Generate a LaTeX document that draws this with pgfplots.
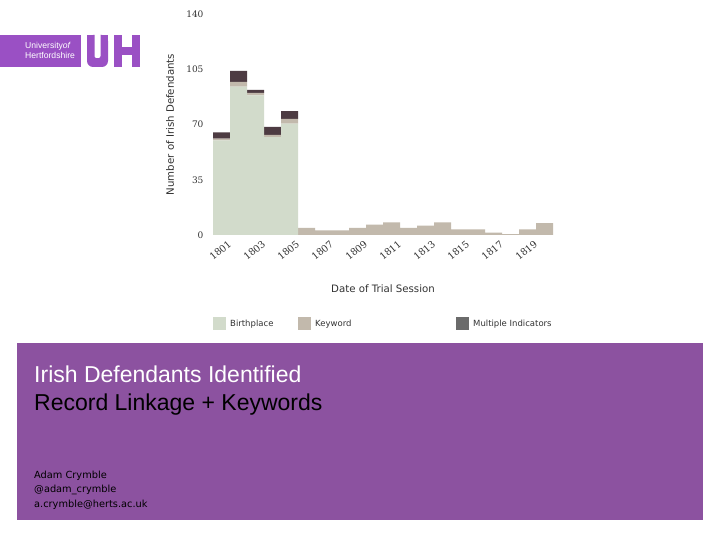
\documentclass[border=0pt]{standalone}
\usepackage{fontspec}
\setmainfont{DejaVu Sans}
\newfontfamily\slidefont{Liberation Sans}
\newfontfamily\tickfont{DejaVu Serif}
\usepackage{pgfplots}
\pgfplotsset{compat=1.18}

\definecolor{birth}{HTML}{D2DBCB}
\definecolor{keyw}{HTML}{C2B9AC}
\definecolor{multi}{HTML}{4D3B42}
\definecolor{multileg}{HTML}{6B6B6B}
\definecolor{slidepurple}{HTML}{8C52A0}
\definecolor{logopurple}{HTML}{9A50C4}
\definecolor{txt}{HTML}{333333}

\begin{document}
\begin{tikzpicture}
% slide frame (1px = 1pt, y measured from the bottom)
\path[use as bounding box] (0pt,0pt) rectangle (720pt,540pt);
\fill[white] (0pt,0pt) rectangle (720pt,540pt);

% logo
\fill[logopurple] (0pt,473pt) rectangle (81pt,505pt);
\node[anchor=base west,inner sep=0pt,text=white,font=\slidefont\fontsize{8.6}{9}\selectfont]
  at (25pt,491pt) {University\textit{of}};
\node[anchor=base west,inner sep=0pt,text=white,font=\slidefont\fontsize{8.6}{9}\selectfont]
  at (25pt,481pt) {Hertfordshire};
\fill[logopurple,rounded corners=6pt] (87pt,505pt) -- (87pt,473pt) -- (108pt,473pt) -- (108pt,505pt) -- cycle;
\fill[logopurple] (87pt,495pt) rectangle (108pt,505pt);
\fill[white,rounded corners=2pt] (94.5pt,482pt) rectangle (100.5pt,507pt);
\fill[logopurple] (114pt,473pt) rectangle (122pt,505pt);
\fill[logopurple] (132pt,473pt) rectangle (140pt,505pt);
\fill[logopurple] (122pt,485pt) rectangle (132pt,493pt);

% purple title panel
\fill[slidepurple] (17pt,20pt) rectangle (703pt,197pt);
\node[anchor=base west,inner sep=0pt,text=white,font=\slidefont\fontsize{23}{26}\selectfont]
  at (34pt,157pt) {Irish Defendants Identified};
\node[anchor=base west,inner sep=0pt,text=black,font=\slidefont\fontsize{23}{26}\selectfont]
  at (34pt,129pt) {Record Linkage + Keywords};
\node[anchor=base west,inner sep=0pt,text=black,font=\fontsize{9.8}{10}\selectfont]
  at (34pt,61pt) {Adam Crymble};
\node[anchor=base west,inner sep=0pt,text=black,font=\fontsize{9.8}{10}\selectfont]
  at (34pt,47pt) {@adam\_crymble};
\node[anchor=base west,inner sep=0pt,text=black,font=\fontsize{9.8}{10}\selectfont]
  at (34pt,32pt) {a.crymble@herts.ac.uk};

% chart
\begin{axis}[
  at={(213pt,305pt)}, anchor=south west,
  scale only axis, width=340pt, height=221pt,
  xmin=1800.5, xmax=1820.5, ymin=0, ymax=140,
  axis line style={draw=none},
  ybar stacked, bar width=17pt,
  ytick={0,35,70,105,140},
  xtick={1801,1803,...,1819},
  xticklabels={1801,1803,1805,1807,1809,1811,1813,1815,1817,1819},
  major tick length=0pt,
  tick align=outside,
  xtick pos=bottom, ytick pos=left,
  /pgf/number format/assume math mode=true,
  ticklabel style={font=\tickfont\fontsize{9}{10}\selectfont, text=txt},
  yticklabel style={xshift=-6pt},
  xticklabel style={font=\tickfont\fontsize{9.6}{10}\selectfont, rotate=40, anchor=east, xshift=5pt, yshift=-11pt},
  xlabel={Date of Trial Session},
  ylabel={Number of Irish Defendants},
  label style={font=\fontsize{10.2}{11}\selectfont, text=txt},
  x label style={at={(axis description cs:0.5,-0.244)}, anchor=center},
  y label style={at={(axis description cs:-0.1265,0.5)}, anchor=center},
  legend columns=3,
  legend cell align=left,
  legend style={at={(axis description cs:0,-0.4027)}, anchor=west, draw=none, fill=none,
    inner sep=0pt, font=\fontsize{8.5}{9}\selectfont, text=txt,
    /tikz/every even column/.append style={column sep=0pt},
    nodes={inner xsep=4pt}},
  legend image code/.code={\fill[#1] (0pt,-6.5pt) rectangle (13pt,6.5pt);},
]
\addlegendimage{fill=birth, draw=none}
\addlegendentry{\makebox[64pt][l]{Birthplace}}
\addlegendimage{fill=keyw, draw=none}
\addlegendentry{\makebox[137pt][l]{Keyword}}
\addlegendimage{fill=multileg, draw=none}
\addlegendentry{Multiple Indicators}

\addplot[fill=birth, draw=none, forget plot] coordinates {
 (1801,60) (1802,94) (1803,88.5) (1804,62) (1805,70.5)
 (1806,0) (1807,0) (1808,0) (1809,0) (1810,0) (1811,0) (1812,0) (1813,0)
 (1814,0) (1815,0) (1816,0) (1817,0) (1818,0) (1819,0) (1820,0)};
\addplot[fill=keyw, draw=none, forget plot] coordinates {
 (1801,1) (1802,3) (1803,1.5) (1804,1.5) (1805,3)
 (1806,4.5) (1807,3) (1808,3) (1809,4.5) (1810,6.5) (1811,8) (1812,4.5) (1813,6)
 (1814,8) (1815,3.5) (1816,3.5) (1817,1.5) (1818,0.5) (1819,3.5) (1820,7.5)};
\addplot[fill=multi, draw=none, forget plot] coordinates {
 (1801,4) (1802,7) (1803,2) (1804,5) (1805,5)
 (1806,0) (1807,0) (1808,0) (1809,0) (1810,0) (1811,0) (1812,0) (1813,0)
 (1814,0) (1815,0) (1816,0) (1817,0) (1818,0) (1819,0) (1820,0)};
\end{axis}
\end{tikzpicture}
\end{document}
